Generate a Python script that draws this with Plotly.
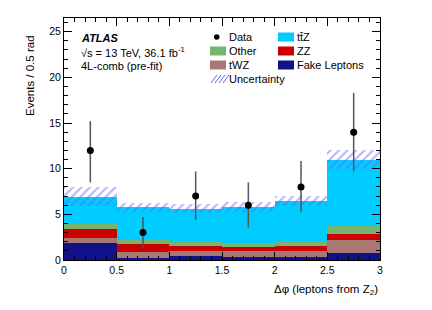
import plotly.graph_objects as go
import numpy as np

# ---------------- data ----------------
bin_centers = [0.25, 0.75, 1.25, 1.75, 2.25, 2.75]
bin_width = 0.5
fake_leptons = [1.9, 0.25, 0.45, 0.33, 0.33, 0.73]
twz = [0.55, 0.65, 0.55, 0.67, 0.67, 1.47]
zz = [0.95, 0.80, 0.55, 0.45, 0.50, 0.70]
other = [0.50, 0.50, 0.40, 0.40, 0.45, 0.80]
ttz = [3.05, 3.55, 3.65, 3.95, 4.50, 7.30]
uncertainty = [1.05, 0.45, 0.50, 0.50, 0.55, 1.05]
data = [12, 3, 7, 6, 8, 14]
data_err_up = [3.2, 1.7, 2.7, 2.5, 2.85, 4.3]
data_err_down = [3.5, 1.7, 2.65, 2.45, 2.8, 4.3]

components = [
    ("Fake Leptons", fake_leptons, "#11118a"),
    ("tWZ", twz, "#a87874"),
    ("ZZ", zz, "#cc0000"),
    ("Other", other, "#77b46e"),
    ("tt̄Z", ttz, "#00ccff"),
]

FONT = "Liberation Sans, Arial, Helvetica, sans-serif"

fig = go.Figure()
base = np.zeros(len(bin_centers))
for name, vals, col in components:
    fig.add_trace(go.Bar(
        x=bin_centers, y=vals, base=base.copy(), width=bin_width,
        name=name, marker=dict(color=col, line=dict(width=0)),
        showlegend=False,
    ))
    base = base + np.array(vals)

total = base
unc = np.array(uncertainty)
fig.add_trace(go.Bar(
    x=bin_centers, y=2 * unc, base=total - unc, width=bin_width,
    name="Uncertainty",
    marker=dict(color="rgba(0,0,0,0)", line=dict(width=0),
                pattern=dict(shape="/", fgcolor="#6464ff", bgcolor="rgba(0,0,0,0)",
                             size=6, solidity=0.33, fillmode="overlay")),
    showlegend=False,
))

fig.add_trace(go.Scatter(
    x=bin_centers, y=data, mode="markers", name="Data",
    marker=dict(color="black", size=7),
    error_y=dict(type="data", array=data_err_up, arrayminus=data_err_down,
                 color="#555555", thickness=1.5, width=0),
    showlegend=False,
))

# ---------------- layout helpers ----------------
# the page body adds an 8px offset; target plot area is x 64..380, y 18..260 in the window
OFF = 8
L, R, T, B = 64 - OFF, 52, 18 - OFF, 50
W, H = 432 - OFF, 310 - OFF
PW, PH = W - L - R, H - T - B


def px(x):
    return (x - OFF - L) / PW


def py(y):
    return (H + OFF - B - y) / PH


annotations = []
shapes = []

# ATLAS label
annotations.append(dict(x=px(79), y=py(38), xref="paper", yref="paper",
                        text="<b><i>ATLAS</i></b>", showarrow=False,
                        xanchor="left", yanchor="middle",
                        font=dict(family=FONT, size=11, color="black")))
annotations.append(dict(x=px(79), y=py(52), xref="paper", yref="paper",
                        text="√s = 13 TeV, 36.1 fb<sup>-1</sup>", showarrow=False,
                        xanchor="left", yanchor="middle",
                        font=dict(family=FONT, size=11, color="black")))
annotations.append(dict(x=px(79), y=py(66), xref="paper", yref="paper",
                        text="4L-comb (pre-fit)", showarrow=False,
                        xanchor="left", yanchor="middle",
                        font=dict(family=FONT, size=11, color="black")))

# legend (manual, two columns)
legend_items = [
    ("Data", "marker", None, 0, 37),
    ("Other", "box", "#77b46e", 0, 51),
    ("tWZ", "box", "#a87874", 0, 65),
    ("Uncertainty", "hatch", "#6464ff", 0, 79),
    ("tt̄Z", "box", "#00ccff", 1, 37),
    ("ZZ", "box", "#cc0000", 1, 51),
    ("Fake Leptons", "box", "#11118a", 1, 65),
]
col_x = [210, 278]
sw_w, sw_h = 16, 9
for label, kind, col, c, yc in legend_items:
    x0 = col_x[c]
    if kind == "marker":
        shapes.append(dict(type="circle", xref="paper", yref="paper",
                           x0=px(x0 + 4), x1=px(x0 + 9.5), y0=py(yc + 2.75), y1=py(yc - 2.75),
                           fillcolor="black", line=dict(width=0)))
    elif kind == "box":
        shapes.append(dict(type="rect", xref="paper", yref="paper",
                           x0=px(x0), x1=px(x0 + sw_w), y0=py(yc + sw_h / 2), y1=py(yc - sw_h / 2),
                           fillcolor=col, line=dict(width=0)))
    else:
        for k in range(4):
            xs = x0 + 1 + k * 4
            shapes.append(dict(type="line", xref="paper", yref="paper",
                               x0=px(xs), x1=px(xs + 6), y0=py(yc + 4), y1=py(yc - 4),
                               line=dict(color=col, width=1)))
    annotations.append(dict(x=px(x0 + sw_w + 1), y=py(yc), xref="paper", yref="paper",
                            text=label, showarrow=False, xanchor="left", yanchor="middle",
                            font=dict(family=FONT, size=11, color="black")))

# axis titles
annotations.append(dict(x=px(30), y=py(76), xref="paper", yref="paper",
                        text="Events / 0.5 rad", textangle=-90, showarrow=False,
                        xanchor="center", yanchor="middle",
                        font=dict(family=FONT, size=11.5, color="black")))
annotations.append(dict(x=1.0, y=py(290), xref="paper", yref="paper",
                        text="Δφ (leptons from Z<sub>2</sub>)", showarrow=False,
                        xanchor="right", yanchor="middle",
                        font=dict(family=FONT, size=11.5, color="black")))

axis_common = dict(
    ticks="inside", mirror="allticks", showline=True, linecolor="black", linewidth=1,
    showgrid=False, zeroline=False, tickcolor="black", ticklen=8,
    tickfont=dict(family=FONT, size=10.5, color="black"),
)

fig.update_layout(
    width=W, height=H,
    margin=dict(l=L, r=R, t=T, b=B, pad=0),
    paper_bgcolor="white", plot_bgcolor="white",
    barmode="overlay", bargap=0,
    showlegend=False,
    xaxis=dict(range=[0, 3], dtick=0.5, tick0=0,
               minor=dict(dtick=0.1, ticklen=4, ticks="inside", tickcolor="black"),
               **axis_common),
    yaxis=dict(range=[0, 26.5], dtick=5, tick0=0,
               minor=dict(dtick=1, ticklen=4, ticks="inside", tickcolor="black"),
               **axis_common),
    annotations=annotations,
    shapes=shapes,
)

fig.write_html("out.html")
